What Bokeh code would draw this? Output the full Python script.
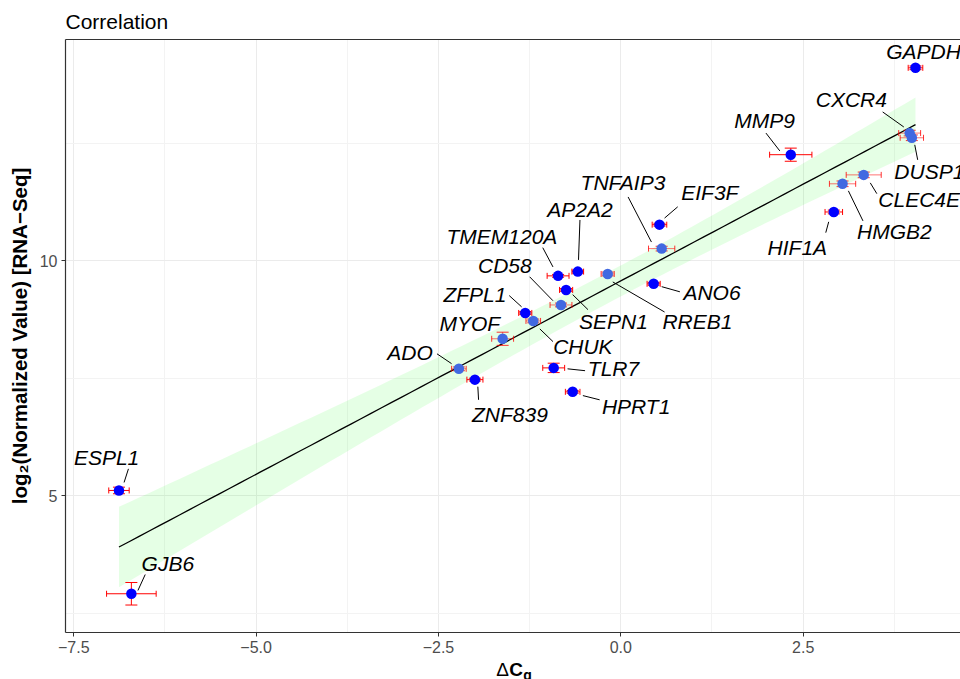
import numpy as np
from bokeh.plotting import figure
from bokeh.layouts import column
from bokeh.models import (FixedTicker, CustomJSTickFormatter, LinearAxis, Range1d)
from bokeh.core.properties import value
from bokeh.embed import file_html
from bokeh.resources import INLINE

# ---------------- data ----------------
genes = ["GAPDH", "CXCR4", "DUSP1", "MMP9", "CLEC4E", "HMGB2", "HIF1A", "EIF3F",
         "TNFAIP3", "AP2A2", "TMEM120A", "RREB1", "ANO6", "SEPN1", "CD58", "ZFPL1",
         "CHUK", "MYOF", "ADO", "ZNF839", "TLR7", "HPRT1", "ESPL1", "GJB6"]
dcq = [4.04, 3.96, 3.99, 2.33, 3.33, 3.04, 2.92, 0.53,
       0.56, -0.59, -0.86, -0.18, 0.45, -0.75, -0.82, -1.31,
       -1.20, -1.62, -2.22, -2.00, -0.92, -0.66, -6.88, -6.71]
dcq_err = [0.10, 0.15, 0.16, 0.29, 0.24, 0.18, 0.12, 0.10,
           0.18, 0.08, 0.15, 0.09, 0.09, 0.09, 0.15, 0.09,
           0.10, 0.15, 0.10, 0.11, 0.15, 0.10, 0.14, 0.34]
log2v = [14.11, 12.72, 12.62, 12.26, 11.83, 11.64, 11.04, 10.77,
         10.26, 9.77, 9.68, 9.72, 9.51, 9.38, 9.06, 8.89,
         8.72, 8.34, 7.70, 7.47, 7.72, 7.21, 5.11, 2.91]
log2v_err = [0.04, 0.06, 0.06, 0.14, 0.06, 0.06, 0.04, 0.03,
             0.05, 0.03, 0.03, 0.04, 0.03, 0.03, 0.04, 0.03,
             0.04, 0.14, 0.04, 0.03, 0.10, 0.03, 0.07, 0.24]
tone = ["dark", "light", "light", "dark", "light", "light", "dark", "dark",
        "light", "dark", "dark", "light", "dark", "dark", "light", "dark",
        "light", "light", "light", "dark", "dark", "dark", "dark", "dark"]

x_ticks = [-7.5, -5.0, -2.5, 0.0, 2.5]
x_minor = [-6.25, -3.75, -1.25, 1.25, 3.75]
y_ticks = [5, 10]
y_minor = [2.5, 7.5, 12.5]

# repelled label positions (data units) and their leader segments
lab_x = [4.15, 3.16, 4.23, 1.97, 4.09, 3.75, 2.42, 1.22,
         0.03, -0.56, -1.63, 1.05, 1.25, -0.10, -1.59, -2.00,
         -0.52, -2.07, -2.89, -1.52, -0.10, 0.21, -7.05, -6.21]
lab_y = [14.45, 13.43, 11.91, 12.98, 11.30, 10.62, 10.28, 11.45,
         11.66, 11.09, 10.51, 8.70, 9.32, 8.70, 9.91, 9.28,
         8.17, 8.66, 8.04, 6.72, 7.70, 6.89, 5.81, 3.55]
seg_x0 = [3.59, 4.03, 1.99, 3.42, 3.12, 2.85, 0.60, 0.10, -0.56, -1.07, -1.25,
          -1.53, -2.52, -1.96, -1.11, -0.66, -0.11, 0.56, -0.73, -0.52, -6.75, -6.52]
seg_y0 = [13.17, 12.47, 12.72, 11.66, 11.49, 10.83, 10.91, 11.36, 10.87, 10.28, 9.66,
          9.26, 8.02, 7.32, 8.55, 9.28, 9.55, 9.45, 7.70, 7.13, 5.57, 3.32]
seg_x1 = [3.88, 4.07, 2.18, 3.51, 3.32, 2.81, 0.78, 0.42, -0.58, -0.93, -0.93,
          -1.36, -2.32, -1.95, -0.93, -0.45, 0.60, 0.81, -0.49, -0.29, -6.81, -6.62]
seg_y1 = [12.85, 12.15, 12.34, 11.43, 10.85, 10.60, 11.15, 10.40, 10.02, 9.87, 9.15,
          9.02, 7.81, 7.04, 8.28, 8.96, 8.91, 9.34, 7.66, 7.04, 5.28, 2.98]

FONT = "Liberation Sans"

# ---------------- main figure ----------------
p = figure(width=960, height=660, output_backend="svg", toolbar_location=None,
           x_range=Range1d(-7.613, 4.657), y_range=Range1d(2.085, 14.713),
           min_border_left=65, min_border_right=0, min_border_top=39,
           min_border_bottom=28, title="Correlation")
p.title.text_font = FONT
p.title.text_font_size = "21px"
p.title.text_font_style = "normal"
p.title.text_color = "black"
p.title.align = "left"
p.title.offset = 0
p.title.standoff = 13
p.outline_line_color = None
p.background_fill_color = "white"
p.border_fill_color = "white"

xa = p.xaxis[0]
ya = p.yaxis[0]
xa.ticker = FixedTicker(ticks=x_ticks, minor_ticks=x_minor)
ya.ticker = FixedTicker(ticks=y_ticks, minor_ticks=y_minor)
xa.formatter = CustomJSTickFormatter(code="return (tick < 0 ? '\u2212' : '') + Math.abs(tick).toFixed(1);")
ya.formatter = CustomJSTickFormatter(code="return Math.abs(tick).toFixed(0);")
for ax in (xa, ya):
    ax.axis_line_color = "#333333"
    ax.axis_line_width = 1.2
    ax.major_tick_line_color = "#333333"
    ax.major_tick_out = 4
    ax.major_tick_in = 0
    ax.minor_tick_out = 0
    ax.minor_tick_in = 0
    ax.major_label_text_font = FONT
    ax.major_label_text_font_size = "16px"
    ax.major_label_text_color = "#4D4D4D"
    ax.major_label_standoff = 4
ya.axis_label = "log\u2082(Normalized Value) [RNA\u2212Seq]"
ya.axis_label_text_font = FONT
ya.axis_label_text_font_size = "20.5px"
ya.axis_label_text_font_style = "bold"
ya.axis_label_text_color = "black"
ya.axis_label_standoff = 6

top = LinearAxis(ticker=FixedTicker(ticks=[]), axis_line_color="#333333",
                 axis_line_width=1.2, major_tick_out=0, major_tick_in=0,
                 minor_tick_out=0, minor_tick_in=0, major_label_text_font_size="0px")
p.add_layout(top, "above")

for g in (p.xgrid[0], p.ygrid[0]):
    g.grid_line_color = "#EBEBEB"
    g.grid_line_width = 1
    g.minor_grid_line_color = "#F3F3F3"
    g.minor_grid_line_width = 1

# ---------------- linear fit with 95% confidence band ----------------
x = np.array(dcq)
y = np.array(log2v)
n = len(x)
b1, b0 = np.polyfit(x, y, 1)
xs = np.linspace(x.min(), x.max(), 80)
fit = b0 + b1 * xs
resid = y - (b0 + b1 * x)
s = np.sqrt((resid ** 2).sum() / (n - 2))
se = s * np.sqrt(1.0 / n + (xs - x.mean()) ** 2 / ((x - x.mean()) ** 2).sum())
t975 = 2.0739  # t quantile, df = n - 2 = 22
p.varea(x=xs, y1=fit - t975 * se, y2=fit + t975 * se, fill_color="#00FF00", fill_alpha=0.1)
p.line(xs, fit, line_color="black", line_width=1.3)

# ---------------- error bars and points ----------------
xe = np.array(dcq_err)
ye = np.array(log2v_err)
tone_arr = np.array(tone)
for t_name, bar_alpha, pt_color in (("dark", 1.0, "#0000FF"), ("light", 0.55, "#4169E1")):
    m = tone_arr == t_name
    xx, yy, ex, ey = x[m], y[m], xe[m], ye[m]
    p.segment(x0=xx - ex, y0=yy, x1=xx + ex, y1=yy, line_color="red", line_alpha=bar_alpha, line_width=1)
    p.scatter(x=np.concatenate([xx - ex, xx + ex]), y=np.concatenate([yy, yy]), marker="dash",
              angle=np.pi / 2, size=6, line_color="red", line_alpha=min(1.0, bar_alpha + 0.25), line_width=1)
    p.segment(x0=xx, y0=yy - ey, x1=xx, y1=yy + ey, line_color="red", line_alpha=bar_alpha, line_width=1)
    p.scatter(x=np.concatenate([xx, xx]), y=np.concatenate([yy - ey, yy + ey]), marker="dash",
              size=12, line_color="red", line_alpha=min(1.0, bar_alpha + 0.25), line_width=1)
    p.scatter(x=xx, y=yy, size=10.5, fill_color=pt_color, line_color=None)

# ---------------- labels ----------------
p.segment(x0=seg_x0, y0=seg_y0, x1=seg_x1, y1=seg_y1, line_color="black", line_width=1)
p.text(x=lab_x, y=lab_y, text=genes, text_font=value(FONT), text_font_style="italic",
       text_font_size="21px", text_align="center", text_baseline="middle", text_color="black")

# ---------------- x-axis title strip (ΔCq with subscript q) ----------------
p2 = figure(width=960, height=19, output_backend="svg", toolbar_location=None,
            x_range=p.x_range, y_range=Range1d(679, 660),
            x_axis_location=None, y_axis_location=None,
            min_border_left=65, min_border_right=0, min_border_top=0, min_border_bottom=0)
p2.outline_line_color = None
p2.grid.grid_line_color = None
p2.background_fill_color = "white"
p2.border_fill_color = "white"
p2.text(x=[-1.708], y=[669], text=["\u0394"], text_font=value(FONT), text_font_size="19px",
        text_font_style="normal", text_color="black", text_align="left", text_baseline="alphabetic")
p2.text(x=[-1.528], y=[669], text=["C"], text_font=value(FONT), text_font_size="19px",
        text_font_style="bold", text_color="black", text_align="left", text_baseline="alphabetic")
p2.text(x=[-1.337], y=[674], text=["q"], text_font=value(FONT), text_font_size="14px",
        text_font_style="bold", text_color="black", text_align="left", text_baseline="alphabetic")

layout = column(p, p2, spacing=0)
open("out.html", "w").write(file_html(layout, INLINE))
